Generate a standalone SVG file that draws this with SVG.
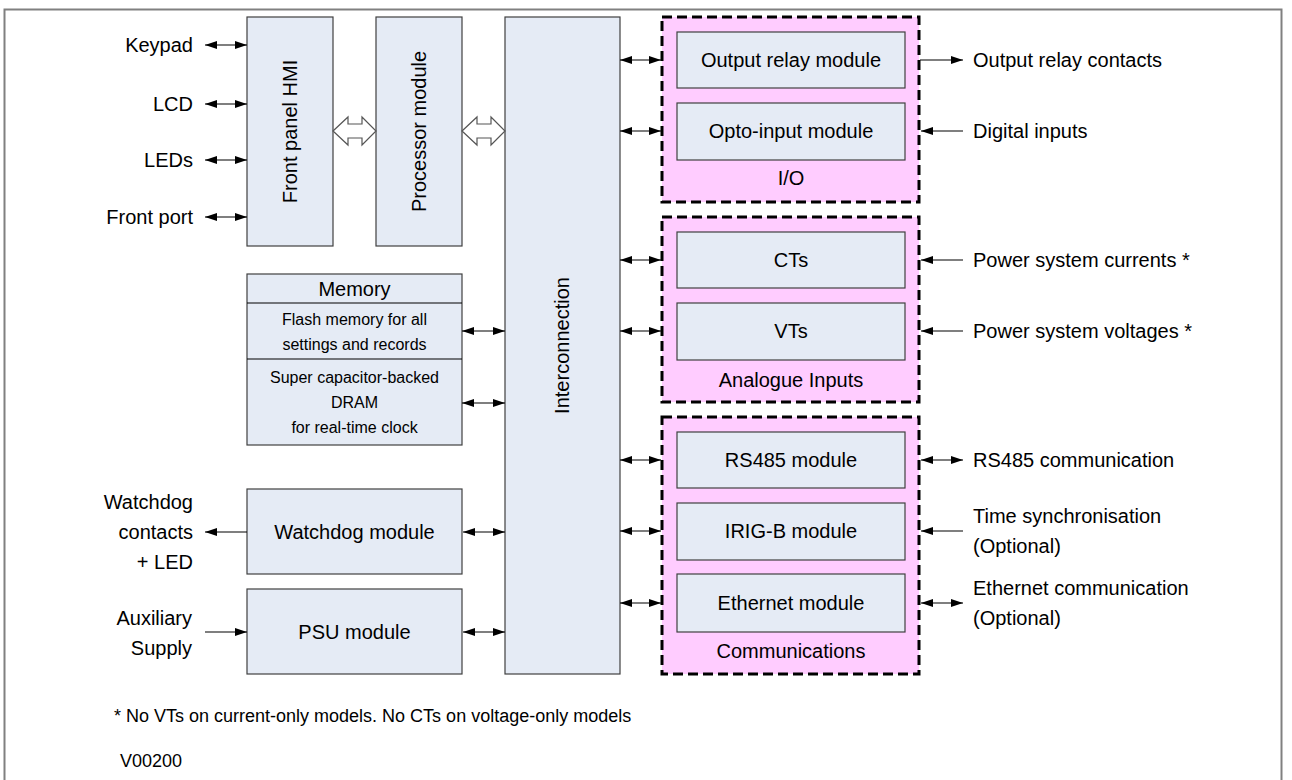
<svg xmlns="http://www.w3.org/2000/svg" width="1292" height="780" viewBox="0 0 1292 780">
<defs>
<style>
text{font-family:"Liberation Sans",Arial,sans-serif;fill:#000}
.t20{font-size:20px}
.t18{font-size:18px}
.t16{font-size:16px}
.mid{text-anchor:middle}
.end{text-anchor:end}
.box{fill:#e5ebf5;stroke:#404040;stroke-width:1.2}
.grp{fill:#ffccff;stroke:#000;stroke-width:3;stroke-dasharray:10 5}
.ln{stroke:#000;stroke-width:1.2;fill:none}
.hollow{fill:#fff;stroke:#555;stroke-width:1.2}
</style>
<marker id="ah" markerUnits="userSpaceOnUse" markerWidth="12" markerHeight="8" refX="12" refY="4" orient="auto-start-reverse">
<path d="M0,0 L12,4 L0,8 z" fill="#000"/>
</marker>
</defs>
<rect x="0" y="0" width="1292" height="780" fill="#fff"/>
<rect x="4.5" y="9.5" width="1277" height="800" fill="none" stroke="#808080" stroke-width="2"/>

<g id="groups">
<rect id="grp-io" class="grp" x="662" y="17" width="257" height="185"/>
<rect id="grp-analogue" class="grp" x="662" y="217" width="257" height="185"/>
<rect id="grp-comms" class="grp" x="662" y="417" width="257" height="257"/>
<text class="t20 mid" x="791" y="185">I/O</text>
<text class="t20 mid" x="791" y="387">Analogue Inputs</text>
<text class="t20 mid" x="791" y="658">Communications</text>
</g>

<g id="front-panel-hmi">
<rect class="box" x="247" y="17" width="86" height="229"/>
<text class="t20 mid" transform="translate(297,131.5) rotate(-90)">Front panel HMI</text>
</g>
<g id="processor-module">
<rect class="box" x="376" y="17" width="86" height="229"/>
<text class="t20 mid" transform="translate(426,131.5) rotate(-90)">Processor module</text>
</g>
<g id="interconnection">
<rect class="box" x="505" y="17" width="115" height="657"/>
<text class="t20 mid" transform="translate(569,345.5) rotate(-90)">Interconnection</text>
</g>
<g id="memory">
<rect class="box" x="247" y="274" width="215" height="171"/>
<line class="ln" x1="247" y1="303" x2="462" y2="303" stroke="#404040"/>
<line class="ln" x1="247" y1="359" x2="462" y2="359" stroke="#404040"/>
<text class="t20 mid" x="354.5" y="296">Memory</text>
<text class="t16 mid" x="354.5" y="325">Flash memory for all</text>
<text class="t16 mid" x="354.5" y="350">settings and records</text>
<text class="t16 mid" x="354.5" y="383">Super capacitor-backed</text>
<text class="t16 mid" x="354.5" y="408">DRAM</text>
<text class="t16 mid" x="354.5" y="433">for real-time clock</text>
</g>
<g id="watchdog-module">
<rect class="box" x="247" y="489" width="215" height="85"/>
<text class="t20 mid" x="354.5" y="539">Watchdog module</text>
</g>
<g id="psu-module">
<rect class="box" x="247" y="589" width="215" height="85"/>
<text class="t20 mid" x="354.5" y="639">PSU module</text>
</g>
<g id="output-relay-module">
<rect class="box" x="677" y="32" width="228" height="56"/>
<text class="t20 mid" x="791" y="67">Output relay module</text>
</g>
<g id="opto-input-module">
<rect class="box" x="677" y="103" width="228" height="57"/>
<text class="t20 mid" x="791" y="138">Opto-input module</text>
</g>
<g id="cts">
<rect class="box" x="677" y="232" width="228" height="56"/>
<text class="t20 mid" x="791" y="267">CTs</text>
</g>
<g id="vts">
<rect class="box" x="677" y="303" width="228" height="57"/>
<text class="t20 mid" x="791" y="338">VTs</text>
</g>
<g id="rs485-module">
<rect class="box" x="677" y="432" width="228" height="56"/>
<text class="t20 mid" x="791" y="467">RS485 module</text>
</g>
<g id="irigb-module">
<rect class="box" x="677" y="503" width="228" height="57"/>
<text class="t20 mid" x="791" y="538">IRIG-B module</text>
</g>
<g id="ethernet-module">
<rect class="box" x="677" y="574" width="228" height="58"/>
<text class="t20 mid" x="791" y="610">Ethernet module</text>
</g>

<g id="external-labels">
<text class="t20 end" x="193" y="52">Keypad</text>
<text class="t20 end" x="193" y="111">LCD</text>
<text class="t20 end" x="193" y="167">LEDs</text>
<text class="t20 end" x="193" y="224">Front port</text>
<text class="t20 end" x="193" y="509">Watchdog</text>
<text class="t20 end" x="193" y="539">contacts</text>
<text class="t20 end" x="193" y="569">+ LED</text>
<text class="t20 end" x="192" y="625">Auxiliary</text>
<text class="t20 end" x="192" y="655">Supply</text>
<text class="t20" x="973" y="67">Output relay contacts</text>
<text class="t20" x="973" y="138">Digital inputs</text>
<text class="t20" x="973" y="267">Power system currents *</text>
<text class="t20" x="973" y="338">Power system voltages *</text>
<text class="t20" x="973" y="467">RS485 communication</text>
<text class="t20" x="973" y="523">Time synchronisation</text>
<text class="t20" x="973" y="553">(Optional)</text>
<text class="t20" x="973" y="595">Ethernet communication</text>
<text class="t20" x="973" y="625">(Optional)</text>
<text class="t18" x="114" y="722">* No VTs on current-only models. No CTs on voltage-only models</text>
<text class="t18" x="120" y="767">V00200</text>
</g>

<g id="connectors">
<polygon class="hollow" points="333,131 348,117 348,124 362,124 362,117 376,131 362,145 362,138 348,138 348,145"/>
<polygon class="hollow" points="462,131 477,117 477,124 491,124 491,117 505,131 491,145 491,138 477,138 477,145"/>
<line class="ln" x1="205" y1="45" x2="247" y2="45" marker-start="url(#ah)" marker-end="url(#ah)"/>
<line class="ln" x1="205" y1="104" x2="247" y2="104" marker-start="url(#ah)" marker-end="url(#ah)"/>
<line class="ln" x1="205" y1="160" x2="247" y2="160" marker-start="url(#ah)" marker-end="url(#ah)"/>
<line class="ln" x1="205" y1="217" x2="247" y2="217" marker-start="url(#ah)" marker-end="url(#ah)"/>
<line class="ln" x1="462" y1="331" x2="505" y2="331" marker-start="url(#ah)" marker-end="url(#ah)"/>
<line class="ln" x1="462" y1="403" x2="505" y2="403" marker-start="url(#ah)" marker-end="url(#ah)"/>
<line class="ln" x1="247" y1="532" x2="205" y2="532" marker-end="url(#ah)"/>
<line class="ln" x1="205" y1="632" x2="247" y2="632" marker-end="url(#ah)"/>
<line class="ln" x1="463" y1="532" x2="505" y2="532" marker-start="url(#ah)" marker-end="url(#ah)"/>
<line class="ln" x1="463" y1="632" x2="505" y2="632" marker-start="url(#ah)" marker-end="url(#ah)"/>
<line class="ln" x1="620" y1="60" x2="661" y2="60" marker-start="url(#ah)" marker-end="url(#ah)"/>
<line class="ln" x1="620" y1="131" x2="661" y2="131" marker-start="url(#ah)" marker-end="url(#ah)"/>
<line class="ln" x1="620" y1="260" x2="661" y2="260" marker-start="url(#ah)" marker-end="url(#ah)"/>
<line class="ln" x1="620" y1="331" x2="661" y2="331" marker-start="url(#ah)" marker-end="url(#ah)"/>
<line class="ln" x1="620" y1="460" x2="661" y2="460" marker-start="url(#ah)" marker-end="url(#ah)"/>
<line class="ln" x1="620" y1="531" x2="661" y2="531" marker-start="url(#ah)" marker-end="url(#ah)"/>
<line class="ln" x1="620" y1="603" x2="661" y2="603" marker-start="url(#ah)" marker-end="url(#ah)"/>
<line class="ln" x1="920" y1="60" x2="963" y2="60" marker-end="url(#ah)"/>
<line class="ln" x1="963" y1="131" x2="921" y2="131" marker-end="url(#ah)"/>
<line class="ln" x1="963" y1="260" x2="921" y2="260" marker-end="url(#ah)"/>
<line class="ln" x1="963" y1="331" x2="921" y2="331" marker-end="url(#ah)"/>
<line class="ln" x1="921" y1="460" x2="963" y2="460" marker-start="url(#ah)" marker-end="url(#ah)"/>
<line class="ln" x1="963" y1="531" x2="921" y2="531" marker-end="url(#ah)"/>
<line class="ln" x1="921" y1="603" x2="963" y2="603" marker-start="url(#ah)" marker-end="url(#ah)"/>
</g>
</svg>
